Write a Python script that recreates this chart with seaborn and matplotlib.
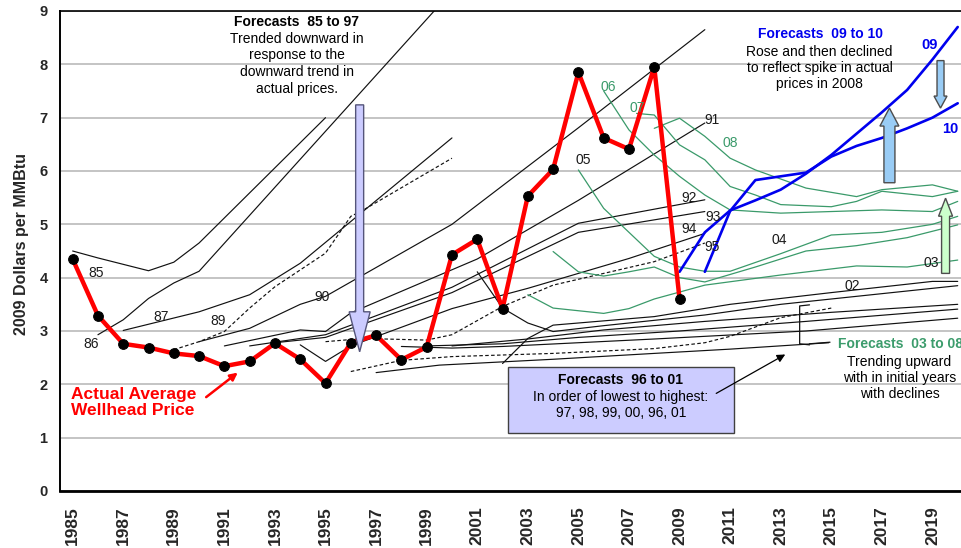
import matplotlib
matplotlib.use("Agg")
import matplotlib.pyplot as plt
import seaborn as sns
import numpy as np
from matplotlib.patches import Polygon, Rectangle

# ---------------- data ----------------
years = list(range(1985, 2010))
price = [4.35, 3.29, 2.76, 2.69, 2.58, 2.53, 2.34, 2.43, 2.77, 2.47, 2.02, 2.78, 2.92,
         2.46, 2.70, 4.43, 4.72, 3.42, 5.53, 6.03, 7.85, 6.62, 6.41, 7.95, 3.60]

f85_x = [1985, 1986, 1987, 1988, 1989, 1990, 1995]
f85_y = [4.50, 4.37, 4.25, 4.13, 4.29, 4.65, 7.00]
f86_x = [1986, 1987, 1988, 1989, 1990, 2000]
f86_y = [2.93, 3.21, 3.61, 3.90, 4.12, 9.37]
f87_x = [1987, 1990, 1992, 1994, 2000]
f87_y = [3.01, 3.36, 3.68, 4.27, 6.62]
f89_x = [1989, 1990, 1991, 1992, 1993, 1995, 1996, 1996.5, 2000]
f89_y = [2.65, 2.80, 2.99, 3.43, 3.83, 4.46, 5.15, 5.27, 6.24]
f90_x = [1990, 1992, 1994, 1995, 2000, 2005, 2010]
f90_y = [2.80, 3.05, 3.50, 3.65, 5.00, 6.81, 8.65]
f91_x = [1991, 1994, 1995, 1996, 2001, 2005, 2010]
f91_y = [2.72, 3.02, 2.99, 3.34, 4.35, 5.45, 6.90]
f92_x = [1992, 1995, 2000, 2005, 2010]
f92_y = [2.72, 2.93, 3.82, 5.02, 5.46]
f93_x = [1993, 1995, 2000, 2005, 2010]
f93_y = [2.78, 2.88, 3.72, 4.85, 5.24]
f94_x = [1994, 1995, 1996, 2000, 2003, 2007, 2010]
f94_y = [2.74, 2.43, 2.72, 3.42, 3.80, 4.36, 4.83]
f95_x = [1995, 1996.5, 1999, 2000, 2002, 2004, 2008, 2010]
f95_y = [2.80, 2.86, 2.83, 2.93, 3.46, 3.86, 4.30, 4.65]
f96_x = [1996, 1998, 2000, 2004, 2008, 2010, 2011, 2013, 2015]
f96_y = [2.24, 2.45, 2.52, 2.58, 2.67, 2.78, 2.90, 3.25, 3.43]
f97_x = [1997, 1999.5, 2004, 2008, 2011, 2014.9]
f97_y = [2.22, 2.36, 2.47, 2.58, 2.66, 2.78]
f98_x = [1998, 2000, 2002, 2008, 2014, 2020]
f98_y = [2.71, 2.68, 2.71, 2.85, 3.00, 3.24]
f99_x = [1999, 2002, 2005, 2009, 2014, 2020]
f99_y = [2.72, 2.76, 2.88, 3.00, 3.18, 3.41]
f00_x = [2000, 2003, 2006, 2010, 2015, 2020]
f00_y = [2.72, 2.85, 3.02, 3.18, 3.35, 3.50]
f01_x = [2001, 2002, 2003, 2004, 2006, 2008, 2010, 2013, 2016, 2020]
f01_y = [4.11, 3.43, 3.15, 2.99, 3.10, 3.20, 3.30, 3.50, 3.65, 3.85]
f02_x = [2002, 2003, 2004, 2008, 2011, 2015, 2019, 2020]
f02_y = [2.39, 2.86, 3.11, 3.27, 3.50, 3.72, 3.93, 3.93]

g03_x = [2003, 2004, 2006, 2007, 2008, 2010, 2013, 2016, 2018, 2020]
g03_y = [3.68, 3.43, 3.33, 3.42, 3.60, 3.86, 4.05, 4.22, 4.20, 4.33]
g04_x = [2004, 2005, 2006, 2007, 2008, 2009, 2010, 2012, 2014, 2016, 2018, 2020]
g04_y = [4.49, 4.11, 4.03, 4.11, 4.20, 4.00, 3.92, 4.20, 4.50, 4.60, 4.75, 4.99]
g05_x = [2005, 2006, 2007, 2008, 2009, 2010, 2011, 2013, 2015, 2017, 2019, 2020]
g05_y = [6.02, 5.30, 4.85, 4.40, 4.20, 4.12, 4.12, 4.45, 4.80, 4.85, 5.00, 5.15]
g06_x = [2006, 2007, 2008, 2009, 2010, 2011, 2012, 2013, 2015, 2017, 2019, 2020]
g06_y = [7.50, 6.77, 6.30, 5.90, 5.55, 5.27, 5.24, 5.21, 5.24, 5.27, 5.24, 5.43]
g07_x = [2007.3, 2008, 2009, 2010, 2011, 2012, 2013, 2015, 2016, 2017, 2019, 2020]
g07_y = [7.08, 7.05, 6.49, 6.21, 5.71, 5.55, 5.37, 5.33, 5.43, 5.62, 5.52, 5.62]
g08_x = [2008, 2009, 2010, 2011, 2012, 2014, 2016, 2017, 2019, 2020]
g08_y = [6.80, 6.99, 6.65, 6.24, 6.02, 5.68, 5.52, 5.65, 5.74, 5.62]

b09_x = [2009, 2010, 2011, 2012, 2013, 2014, 2015, 2016, 2017, 2018, 2019, 2020]
b09_y = [4.11, 4.85, 5.26, 5.45, 5.65, 5.95, 6.30, 6.70, 7.10, 7.52, 8.09, 8.70]
b10_x = [2010, 2011, 2012, 2013, 2014, 2015, 2016, 2017, 2018, 2019, 2020]
b10_y = [4.11, 5.25, 5.83, 5.90, 5.97, 6.27, 6.47, 6.62, 6.80, 7.00, 7.27]

xtick_years = list(range(1985, 2020, 2))
xtick_labels = [str(y) for y in xtick_years]
ytick_vals = list(range(0, 10))

# ---------------- style ----------------
sns.set_style("white")
plt.rcParams['font.family'] = ['Liberation Sans', 'DejaVu Sans']

BLACK = "#111111"
GREEN = "#3a9a6a"
BLUE = "#0000ee"

fig = plt.figure(figsize=(9.61, 5.48), dpi=100)
ax = fig.add_axes([60 / 961, 57 / 548, 901 / 961, 480 / 548])
ax.set_xlim(1984.5, 2020.13)
ax.set_ylim(0, 9)


def line(x, y, color, lw, ls="-", z=2):
    sns.lineplot(x=x, y=y, ax=ax, color=color, linewidth=lw, linestyle=ls,
                 estimator=None, sort=False, legend=False, zorder=z)


dash = (0, (3, 2))
for x, y, ls in [(f85_x, f85_y, "-"), (f86_x, f86_y, "-"), (f87_x, f87_y, "-"),
                 (f89_x, f89_y, dash), (f90_x, f90_y, "-"), (f91_x, f91_y, "-"),
                 (f92_x, f92_y, "-"), (f93_x, f93_y, "-"), (f94_x, f94_y, "-"),
                 (f95_x, f95_y, dash), (f96_x, f96_y, dash), (f97_x, f97_y, "-"),
                 (f98_x, f98_y, "-"), (f99_x, f99_y, "-"), (f00_x, f00_y, "-"),
                 (f01_x, f01_y, "-"), (f02_x, f02_y, "-")]:
    line(x, y, BLACK, 0.85, ls)

for x, y in [(g03_x, g03_y), (g04_x, g04_y), (g05_x, g05_y), (g06_x, g06_y),
             (g07_x, g07_y), (g08_x, g08_y)]:
    line(x, y, GREEN, 0.9)

line(b09_x, b09_y, BLUE, 1.9, z=3)
line(b10_x, b10_y, BLUE, 1.9, z=3)

sns.lineplot(x=years, y=price, ax=ax, color="#ff0000", linewidth=3.2, marker="o",
             markersize=7, markerfacecolor="black", markeredgecolor="black",
             estimator=None, sort=False, legend=False, zorder=6)

# ---------------- axes ----------------
ax.set_yticks(ytick_vals)
ax.set_yticklabels([str(v) for v in ytick_vals], fontsize=10.5, fontweight="bold")
ax.set_xticks(xtick_years)
ax.set_xticklabels(xtick_labels, rotation=90, fontsize=12.5, fontweight="bold")
ax.set_xticks(np.arange(1984.5, 2020.5, 1.0), minor=True)
ax.tick_params(axis="x", which="major", length=0, pad=11)
ax.tick_params(axis="x", which="minor", length=5, width=1.1, color="black", direction="out")
ax.tick_params(axis="y", length=3, width=1.0, color="black", pad=6, direction="out")
ax.yaxis.grid(True, color="#c4c4c4", linewidth=1.4)
ax.xaxis.grid(False)
ax.set_axisbelow(True)
ax.spines["left"].set_color("black"); ax.spines["left"].set_linewidth(1.4)
ax.spines["bottom"].set_color("black"); ax.spines["bottom"].set_linewidth(2.0)
ax.spines["top"].set_color("black"); ax.spines["top"].set_linewidth(1.2)
ax.spines["right"].set_visible(False)
ax.set_xlabel("")
ax.set_ylabel("2009 Dollars per MMBtu", fontsize=11.5, fontweight="bold")
ax.yaxis.set_label_coords(-0.034, 0.515)


# ---------------- block arrows ----------------
def block_arrow(xc, ytail, ytip, shaft_px, head_px, headlen_px, fc, ec):
    t = ax.transData
    (px, ptail), (_, ptip) = t.transform([(xc, ytail), (xc, ytip)])
    d = 1 if ptip > ptail else -1
    hb = ptip - d * headlen_px
    pts = [(px - shaft_px, ptail), (px + shaft_px, ptail), (px + shaft_px, hb),
           (px + head_px, hb), (px, ptip), (px - head_px, hb), (px - shaft_px, hb)]
    pd_ = t.inverted().transform(pts)
    ax.add_patch(Polygon(pd_, closed=True, facecolor=fc, edgecolor=ec, lw=1.0, zorder=7))


block_arrow(1996.35, 7.24, 2.61, 4, 10.5, 40, "#ccccff", "#55557a")
block_arrow(2017.30, 5.78, 7.18, 5.5, 9.5, 18, "#99ccf5", "#4d4d4d")
block_arrow(2019.32, 8.07, 7.18, 3.5, 6.5, 12, "#99ccf5", "#4d4d4d")
block_arrow(2019.52, 4.08, 5.49, 4, 7, 18, "#ccffcc", "#4d4d4d")

# ---------------- texts ----------------
ax.text(1993.86, 8.80, "Forecasts  85 to 97", ha="center", va="center", fontsize=10,
        fontweight="bold", color="black", zorder=8)
ax.text(1993.86, 8.01, "Trended downward in\nresponse to the\ndownward trend in\nactual prices.",
        ha="center", va="center", fontsize=10, linespacing=1.25, color="black", zorder=8)

ax.text(2014.57, 8.57, "Forecasts  09 to 10", ha="center", va="center", fontsize=10,
        fontweight="bold", color=BLUE, zorder=8)
ax.text(2014.54, 7.93, "Rose and then declined\nto reflect spike in actual\nprices in 2008",
        ha="center", va="center", fontsize=10, linespacing=1.18, color="black", zorder=8)

ax.add_patch(Rectangle((2002.22, 1.08), 2011.15 - 2002.22, 2.32 - 1.08,
                       facecolor="#ccccff", edgecolor="#404040", lw=1.0, zorder=7))
ax.text(2006.68, 2.08, "Forecasts  96 to 01", ha="center", va="center", fontsize=10,
        fontweight="bold", color="black", zorder=8)
ax.text(2006.68, 1.615, "In order of lowest to highest:\n97, 98, 99, 00, 96, 01",
        ha="center", va="center", fontsize=10, linespacing=1.18, color="black", zorder=8)
ax.annotate("", xy=(2013.18, 2.56), xytext=(2010.45, 1.83),
            arrowprops=dict(arrowstyle="-|>", color="black", lw=0.9,
                            mutation_scale=12, shrinkA=0, shrinkB=0), zorder=8)

ax.text(2015.26, 2.76, "Forecasts  03 to 08", ha="left", va="center", fontsize=10,
        fontweight="bold", color="#3c9c6c", zorder=8)
ax.text(2017.70, 2.12, "Trending upward\nwith in initial years\nwith declines",
        ha="center", va="center", fontsize=10, linespacing=1.18, color="black", zorder=8)
ax.plot([2014.14, 2013.75, 2013.75, 2014.14], [3.49, 3.47, 2.76, 2.74],
        color=BLACK, lw=0.9, zorder=4)
ax.plot([2014.14, 2014.95], [2.76, 2.79], color=BLACK, lw=0.9, zorder=4)

ax.text(1984.95, 1.66, "Actual Average\nWellhead Price", ha="left", va="center",
        fontsize=12.5, fontweight="bold", color="#ff0000", linespacing=1.12, zorder=8)
ax.annotate("", xy=(1991.53, 2.22), xytext=(1990.28, 1.76),
            arrowprops=dict(arrowstyle="-|>", color="#ff0000", lw=1.8,
                            mutation_scale=11, shrinkA=0, shrinkB=0), zorder=8)

labels_black = [("85", 1985.91, 4.09), ("86", 1985.74, 2.76), ("87", 1988.48, 3.27),
                ("89", 1990.75, 3.19), ("90", 1994.85, 3.64), ("91", 2010.29, 6.96),
                ("92", 2009.37, 5.49), ("93", 2010.32, 5.14), ("94", 2009.37, 4.91),
                ("95", 2010.29, 4.58), ("02", 2015.85, 3.84), ("03", 2018.95, 4.27),
                ("04", 2012.96, 4.71), ("05", 2005.21, 6.21)]
for t, x, y in labels_black:
    ax.text(x, y, t, ha="center", va="center", fontsize=10, color="#1a1a1a", zorder=8)
for t, x, y in [("06", 2006.17, 7.57), ("07", 2007.31, 7.18), ("08", 2011.0, 6.52)]:
    ax.text(x, y, t, ha="center", va="center", fontsize=10, color=GREEN, zorder=8)
for t, x, y in [("09", 2018.89, 8.36), ("10", 2019.72, 6.78)]:
    ax.text(x, y, t, ha="center", va="center", fontsize=10.5, fontweight="bold",
            color=BLUE, zorder=8)

fig.savefig("out.png", dpi=100)
